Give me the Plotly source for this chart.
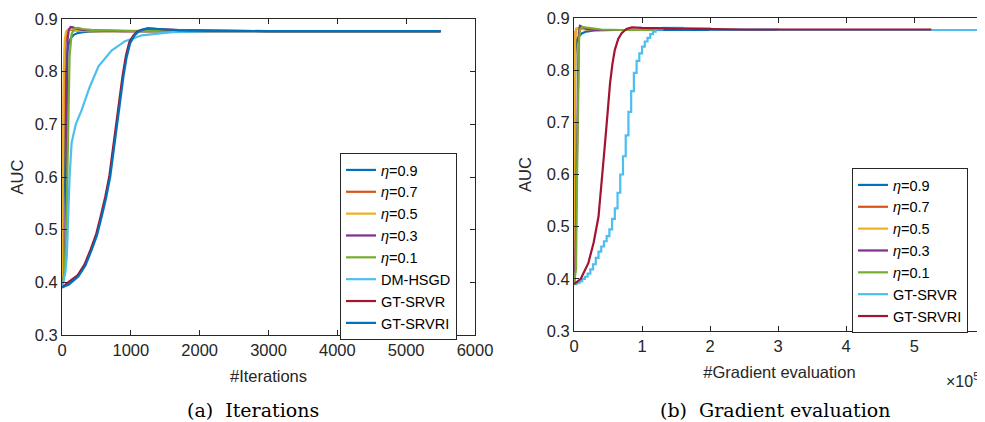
import plotly.graph_objects as go

# ---------------- data: (a) Iterations ----------------
it_eta09_x = [0, 20, 40, 60, 80, 100, 130, 170, 220, 300, 400, 600, 1000, 5500]
it_eta09_y = [0.39, 0.55, 0.72, 0.80, 0.84, 0.855, 0.864, 0.870, 0.873, 0.875, 0.876, 0.877, 0.877, 0.877]
it_eta07_x = [0, 15, 30, 45, 60, 80, 110, 150, 220, 350, 600, 5500]
it_eta07_y = [0.39, 0.60, 0.78, 0.85, 0.87, 0.878, 0.880, 0.879, 0.878, 0.877, 0.877, 0.877]
it_eta05_x = [0, 10, 25, 40, 60, 90, 130, 180, 260, 400, 700, 5500]
it_eta05_y = [0.39, 0.62, 0.80, 0.86, 0.876, 0.880, 0.881, 0.880, 0.878, 0.877, 0.877, 0.877]
it_eta03_x = [0, 40, 55, 65, 80, 100, 125, 160, 220, 320, 500, 900, 5500]
it_eta03_y = [0.39, 0.42, 0.55, 0.75, 0.86, 0.880, 0.885, 0.884, 0.881, 0.879, 0.878, 0.877, 0.877]
it_eta01_x = [0, 40, 70, 90, 110, 140, 180, 230, 300, 450, 700, 1200, 5500]
it_eta01_y = [0.39, 0.42, 0.55, 0.72, 0.83, 0.872, 0.882, 0.883, 0.881, 0.879, 0.878, 0.877, 0.877]
it_dm_x = [0, 20, 50, 70, 90, 110, 140, 200, 285, 400, 530, 720, 915, 1160, 1600, 2200, 5500]
it_dm_y = [0.39, 0.40, 0.42, 0.45, 0.52, 0.60, 0.665, 0.70, 0.727, 0.77, 0.81, 0.84, 0.858, 0.869, 0.875, 0.877, 0.877]
it_srvr_x = [0, 90, 225, 328, 418, 498, 565, 628, 688, 738, 783, 833, 880, 928, 978, 1038, 1098, 1168, 1243, 1390, 1690, 2190, 2990, 5500]
it_srvr_y = [0.39, 0.40, 0.413, 0.434, 0.463, 0.492, 0.527, 0.562, 0.602, 0.652, 0.698, 0.747, 0.792, 0.830, 0.856, 0.869, 0.877, 0.880, 0.882, 0.881, 0.879, 0.878, 0.877, 0.877]
it_srvri_x = [0, 100, 237, 340, 430, 510, 577, 640, 700, 750, 795, 845, 892, 940, 990, 1050, 1110, 1180, 1255, 1400, 1700, 2200, 3000, 5500]
it_srvri_y = [0.39, 0.396, 0.411, 0.432, 0.461, 0.49, 0.525, 0.56, 0.60, 0.65, 0.696, 0.745, 0.79, 0.828, 0.854, 0.868, 0.876, 0.880, 0.882, 0.881, 0.879, 0.878, 0.877, 0.877]

# ---------------- data: (b) Gradient evaluation (x 10^5) ----------------
gr_eta09_x = [0, 0.004, 0.008, 0.012, 0.018, 0.03, 0.05, 0.08, 0.12, 0.18, 0.3, 0.6, 3.0]
gr_eta09_y = [0.39, 0.52, 0.68, 0.78, 0.83, 0.85, 0.86, 0.866, 0.871, 0.874, 0.876, 0.877, 0.877]
gr_eta07_x = [0, 0.004, 0.008, 0.012, 0.02, 0.035, 0.06, 0.1, 0.2, 0.4, 1.2]
gr_eta07_y = [0.39, 0.58, 0.76, 0.84, 0.87, 0.879, 0.880, 0.879, 0.878, 0.877, 0.877]
gr_eta05_x = [0, 0.004, 0.008, 0.014, 0.022, 0.04, 0.07, 0.11, 0.2, 0.4, 1.2]
gr_eta05_y = [0.39, 0.60, 0.78, 0.85, 0.875, 0.880, 0.881, 0.879, 0.878, 0.877, 0.877]
gr_eta03_x = [0, 0.02, 0.04, 0.055, 0.07, 0.088, 0.12, 0.18, 0.3, 0.6, 1.2]
gr_eta03_y = [0.39, 0.42, 0.60, 0.80, 0.87, 0.885, 0.883, 0.879, 0.877, 0.877, 0.877]
gr_eta01_x = [0, 0.03, 0.045, 0.06, 0.075, 0.09, 0.12, 0.16, 0.25, 0.4, 0.7, 1.2]
gr_eta01_y = [0.39, 0.42, 0.60, 0.78, 0.86, 0.878, 0.883, 0.882, 0.880, 0.878, 0.877, 0.877]
gr_srvr_x = [0, 0.04, 0.08, 0.12, 0.16, 0.20, 0.24, 0.28, 0.32, 0.36, 0.40, 0.44, 0.48, 0.52, 0.56,
             0.60, 0.64, 0.68, 0.72, 0.76, 0.80, 0.84, 0.88, 0.92, 0.96, 1.00, 1.04, 1.08, 1.12,
             1.16, 1.20, 1.30, 1.40, 1.60, 2.0, 3.0, 6.3]
gr_srvr_y = [0.39, 0.392, 0.395, 0.40, 0.404, 0.41, 0.418, 0.428, 0.44, 0.452, 0.462, 0.472, 0.482, 0.495, 0.515,
             0.535, 0.565, 0.60, 0.635, 0.675, 0.72, 0.76, 0.795, 0.818, 0.832, 0.845, 0.855, 0.862, 0.869,
             0.874, 0.878, 0.881, 0.881, 0.880, 0.878, 0.877, 0.877]
gr_srvri_x = [0, 0.1, 0.21, 0.29, 0.36, 0.41, 0.456, 0.495, 0.53, 0.565, 0.60, 0.65, 0.70, 0.77, 0.85, 1.0, 1.3, 1.8, 2.5, 3.5, 5.25]
gr_srvri_y = [0.39, 0.40, 0.43, 0.47, 0.519, 0.585, 0.66, 0.72, 0.775, 0.812, 0.839, 0.86, 0.871, 0.879, 0.882, 0.881, 0.880, 0.879, 0.878, 0.878, 0.878]

it_x_ticks = [0, 1000, 2000, 3000, 4000, 5000, 6000]
gr_x_ticks = [0, 1, 2, 3, 4, 5, 6]
y_ticks = [0.3, 0.4, 0.5, 0.6, 0.7, 0.8, 0.9]

C_BLUE, C_ORANGE, C_YELLOW, C_PURPLE = "#0072BD", "#D95319", "#EDB120", "#7E2F8E"
C_GREEN, C_LBLUE, C_RED = "#77AC30", "#4DBEEE", "#A2142F"

FONT = "Liberation Sans, Arial, sans-serif"
TXT = "#262626"
LW = 2.2

# page has an 8px body margin: figure is shrunk and positions offset accordingly
OFF = 8
W, H = 985 - OFF, 422 - OFF


def px(x):
    return (x - OFF) / W


def py(y):
    return 1 - (y - OFF) / H


fig = go.Figure()

left = [
    ("<i>η</i>=0.9", it_eta09_x, it_eta09_y, C_BLUE, "linear"),
    ("<i>η</i>=0.7", it_eta07_x, it_eta07_y, C_ORANGE, "linear"),
    ("<i>η</i>=0.5", it_eta05_x, it_eta05_y, C_YELLOW, "linear"),
    ("<i>η</i>=0.3", it_eta03_x, it_eta03_y, C_PURPLE, "linear"),
    ("<i>η</i>=0.1", it_eta01_x, it_eta01_y, C_GREEN, "linear"),
    ("DM-HSGD", it_dm_x, it_dm_y, C_LBLUE, "linear"),
    ("GT-SRVR", it_srvr_x, it_srvr_y, C_RED, "linear"),
    ("GT-SRVRI", it_srvri_x, it_srvri_y, C_BLUE, "linear"),
]
for name, x, y, c, shp in left:
    fig.add_trace(go.Scatter(x=x, y=y, name=name, mode="lines",
                             line=dict(color=c, width=LW, shape=shp),
                             xaxis="x", yaxis="y", legend="legend"))

right = [
    ("<i>η</i>=0.9", gr_eta09_x, gr_eta09_y, C_BLUE, "linear"),
    ("<i>η</i>=0.7", gr_eta07_x, gr_eta07_y, C_ORANGE, "linear"),
    ("<i>η</i>=0.5", gr_eta05_x, gr_eta05_y, C_YELLOW, "linear"),
    ("<i>η</i>=0.3", gr_eta03_x, gr_eta03_y, C_PURPLE, "linear"),
    ("<i>η</i>=0.1", gr_eta01_x, gr_eta01_y, C_GREEN, "linear"),
    ("GT-SRVR", gr_srvr_x, gr_srvr_y, C_LBLUE, "hv"),
    ("GT-SRVRI", gr_srvri_x, gr_srvri_y, C_RED, "linear"),
]
for name, x, y, c, shp in right:
    fig.add_trace(go.Scatter(x=x, y=y, name=name, mode="lines",
                             line=dict(color=c, width=LW, shape=shp),
                             xaxis="x2", yaxis="y2", legend="legend2"))

axis_common = dict(showline=True, linecolor=TXT, linewidth=1, mirror="ticks",
                   ticks="inside", ticklen=5, tickcolor=TXT, tickwidth=1,
                   showgrid=False, zeroline=False, automargin=False,
                   ticklabeloverflow="allow",
                   tickfont=dict(family=FONT, size=16.5, color=TXT),
                   title_font=dict(family=FONT, size=16.5, color=TXT))

LEG_FONT = dict(family=FONT, size=14.5, color="#000000")

fig.update_layout(
    width=W, height=H, margin=dict(l=0, r=0, t=0, b=0),
    paper_bgcolor="white", plot_bgcolor="white",
    font=dict(family=FONT, color=TXT),
    xaxis=dict(domain=[px(62), px(475)], range=[0, 6000], tickvals=it_x_ticks,
               anchor="y", title=dict(text="#Iterations", standoff=12), **axis_common),
    yaxis=dict(domain=[py(335), py(19)], range=[0.3, 0.9], tickvals=y_ticks,
               tickformat=".1f", anchor="x", title=dict(text="AUC", standoff=10), **axis_common),
    xaxis2=dict(domain=[px(574), 1.0], range=[0, 6.04], tickvals=gr_x_ticks,
                anchor="y2", title=dict(text="#Gradient evaluation", standoff=12), **axis_common),
    yaxis2=dict(domain=[py(331), py(18)], range=[0.3, 0.9], tickvals=y_ticks,
                tickformat=".1f", anchor="x2", title=dict(text="AUC", standoff=10), **axis_common),
    legend=dict(x=px(340), y=py(153), xanchor="left", yanchor="top",
                bgcolor="white", bordercolor=TXT, borderwidth=1,
                font=LEG_FONT, tracegroupgap=0, itemwidth=30),
    legend2=dict(x=px(852), y=py(168), xanchor="left", yanchor="top",
                 bgcolor="white", bordercolor=TXT, borderwidth=1,
                 font=LEG_FONT, tracegroupgap=0, itemwidth=30),
    showlegend=True,
    annotations=[
        dict(text="(a)  Iterations", x=px(253), y=py(410), xref="paper", yref="paper",
             showarrow=False, xanchor="center", yanchor="middle",
             font=dict(family="DejaVu Serif, serif", size=19, color="#000000")),
        dict(text="(b)  Gradient evaluation", x=px(775), y=py(410), xref="paper", yref="paper",
             showarrow=False, xanchor="center", yanchor="middle",
             font=dict(family="DejaVu Serif, serif", size=19, color="#000000")),
        dict(text="×10<sup>5</sup>", x=px(944), y=py(380), xref="paper", yref="paper",
             showarrow=False, xanchor="left", yanchor="middle",
             font=dict(family=FONT, size=16, color=TXT)),
    ],
)

fig.write_html("out.html")
